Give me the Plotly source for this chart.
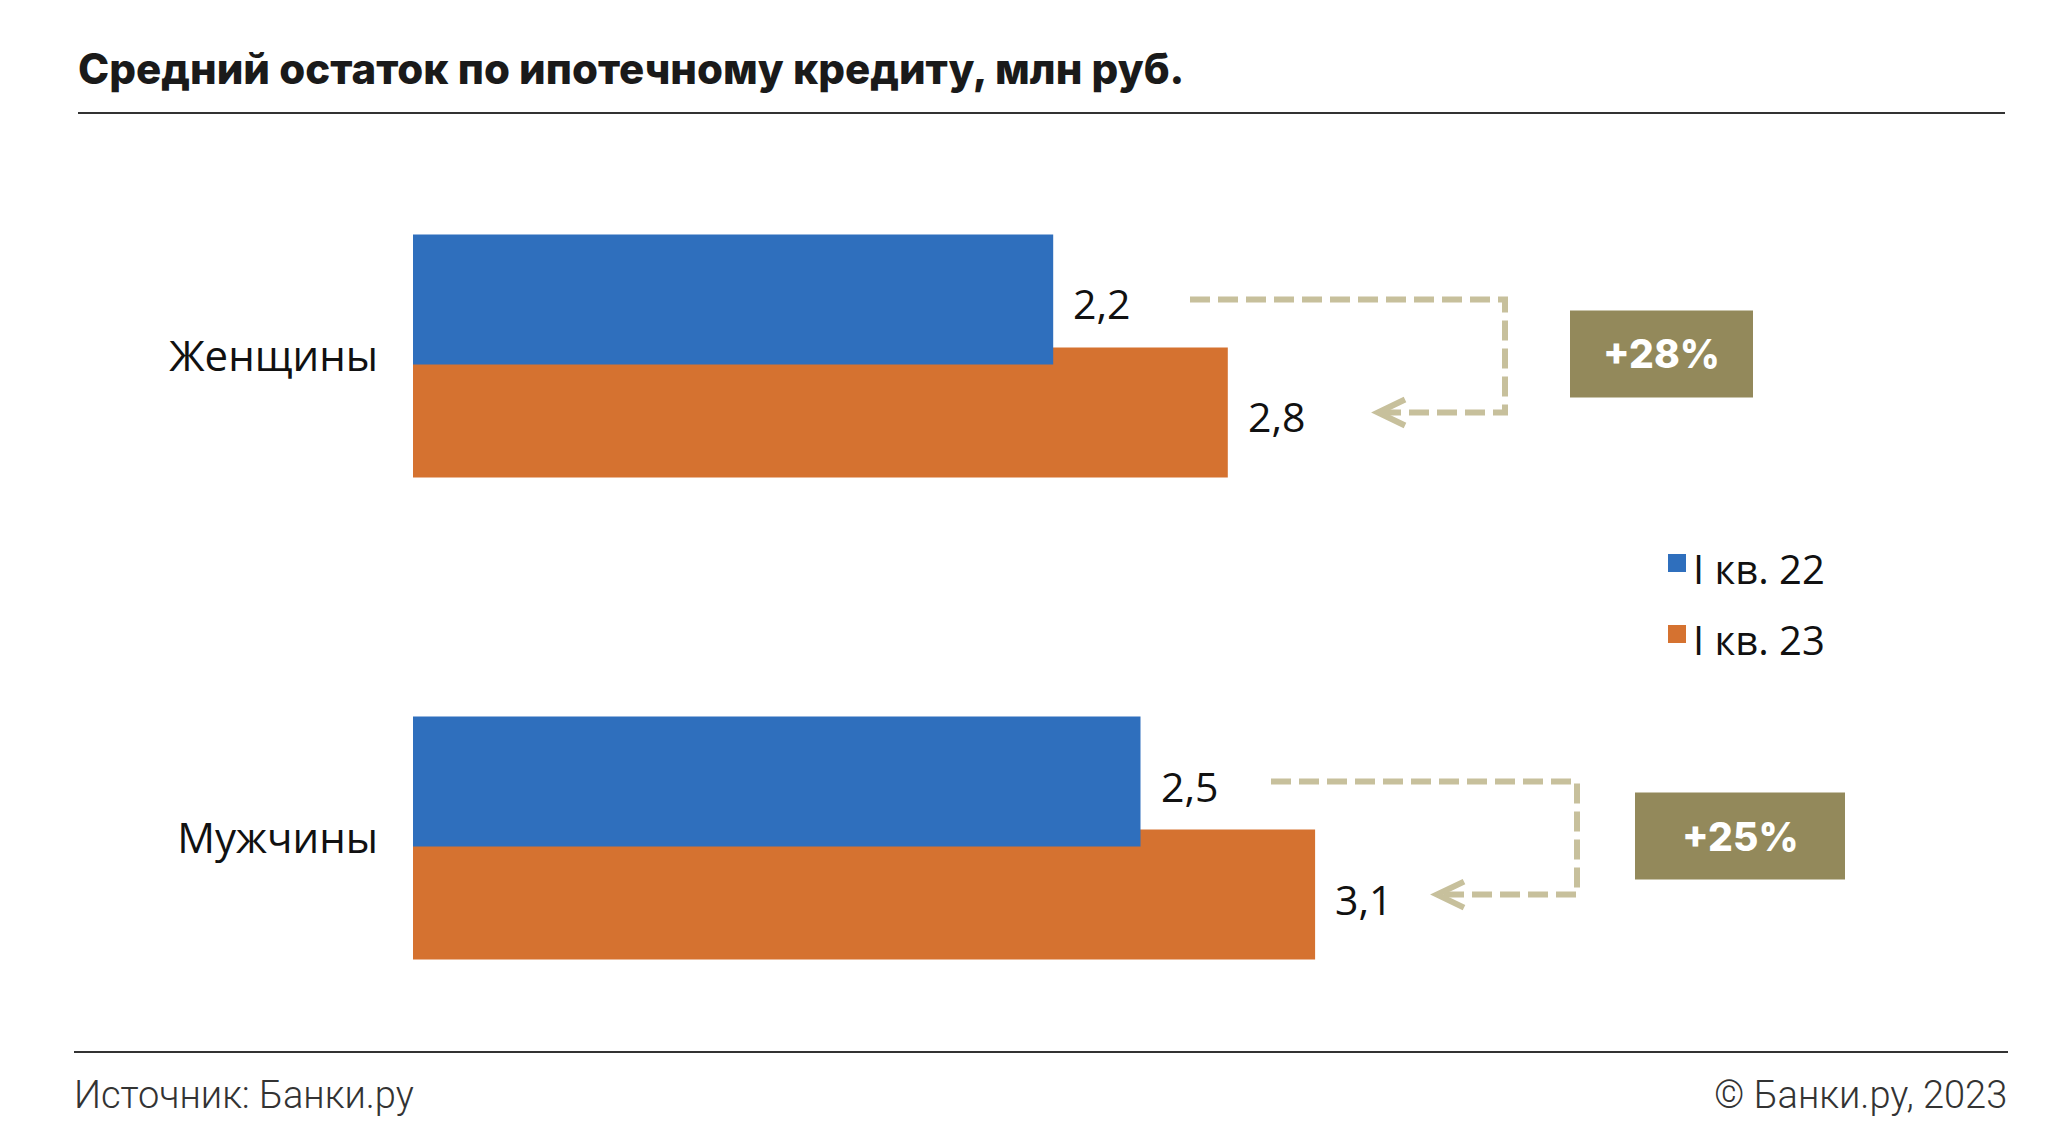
import plotly.graph_objects as go

# ---------------- data ----------------
categories = ["Женщины", "Мужчины"]
series_names = ["I кв. 22", "I кв. 23"]
q1_22 = [2.2, 2.5]
q1_23 = [2.8, 3.1]
growth_labels = ["+28%", "+25%"]

# ---------------- style ----------------
BLUE = "#2f6fbd"
ORANGE = "#d57230"
OLIVE = "#93895b"
DASHC = "#c7c09c"
TEXT = "#111111"
LABEL_FONT = "Open Sans, Liberation Sans, Arial"

W, H = 2050, 1140
L, R, T, B = 405, 50, 131, 93
PW, PH = W - L - R, H - T - B
XMAX = PW / 291.0
YR = 1.9  # y units shown
PX_PER_Y = PH / YR

BAR_W = 0.2697
OFF_BLUE = -0.252
OFF_ORANGE = -0.0176
C_BLUE = OFF_BLUE + BAR_W / 2
C_ORANGE = OFF_ORANGE + BAR_W / 2


def px_x(p):
    return (p - L) / PW


def px_y(p):
    return 1 - (p - T) / PH


def cat_px(i):
    return T + (i + 0.45) * PX_PER_Y


def fmt(v):
    return f"{v:.1f}".replace(".", ",")


fig = go.Figure()
fig.add_trace(go.Bar(y=categories, x=q1_23, orientation="h", name=series_names[1],
                     marker=dict(color=ORANGE, line=dict(width=0)),
                     width=BAR_W, offset=OFF_ORANGE, showlegend=False, hoverinfo="x+name"))
fig.add_trace(go.Bar(y=categories, x=q1_22, orientation="h", name=series_names[0],
                     marker=dict(color=BLUE, line=dict(width=0)),
                     width=BAR_W, offset=OFF_BLUE, showlegend=False, hoverinfo="x+name"))

shapes = []
annotations = []

# value labels
for i in range(len(categories)):
    for vals, c in ((q1_22, C_BLUE), (q1_23, C_ORANGE)):
        annotations.append(dict(x=vals[i], y=i + c, xref="x", yref="y", text=fmt(vals[i]),
                                showarrow=False, xanchor="left", yanchor="middle",
                                xshift=18, yshift=-4,
                                font=dict(family=LABEL_FONT, size=41, color=TEXT)))

# connectors and growth boxes (pixel positions of decorations)
connectors = [dict(start=1182, vert=1497, tip=1370), dict(start=1263, vert=1569, tip=1429)]
boxes = [dict(x0=1562, x1=1745), dict(x0=1627, x1=1837)]
BOX_H = 87
ah = 13 / PX_PER_Y
for i, cn in enumerate(connectors):
    yb = i + C_BLUE
    yo = i + C_ORANGE
    xs, xv, xt = px_x(cn["start"]), px_x(cn["vert"]), px_x(cn["tip"])
    shapes.append(dict(type="path", xref="paper", yref="y",
                       path=f"M {xs},{yb} L {xv},{yb} L {xv},{yo} L {px_x(cn['tip'] + 6)},{yo}",
                       line=dict(color=DASHC, width=6, dash="20px,8px")))
    shapes.append(dict(type="path", xref="paper", yref="y",
                       path=f"M {px_x(cn['tip'] + 27)},{yo - ah} L {xt},{yo} L {px_x(cn['tip'] + 27)},{yo + ah}",
                       line=dict(color=DASHC, width=6)))
    bx = boxes[i]
    cy = cat_px(i) - 2
    shapes.append(dict(type="rect", xref="paper", yref="paper",
                       x0=px_x(bx["x0"]), x1=px_x(bx["x1"]),
                       y0=px_y(cy + BOX_H / 2), y1=px_y(cy - BOX_H / 2),
                       fillcolor=OLIVE, line=dict(width=0)))
    annotations.append(dict(x=px_x((bx["x0"] + bx["x1"]) / 2), y=px_y(cy),
                            xref="paper", yref="paper", text=growth_labels[i], showarrow=False,
                            xanchor="center", yanchor="middle",
                            font=dict(family="Inter", size=39, color="white", weight=800)))

# legend (manual)
legend_rows = [(BLUE, 546), (ORANGE, 617)]
for (col, ytop), name in zip(legend_rows, series_names):
    shapes.append(dict(type="rect", xref="paper", yref="paper",
                       x0=px_x(1660), x1=px_x(1678), y0=px_y(ytop + 18), y1=px_y(ytop),
                       fillcolor=col, line=dict(width=0)))
    annotations.append(dict(x=px_x(1683), y=px_y(ytop + 14), xref="paper", yref="paper",
                            text=name, showarrow=False, xanchor="left", yanchor="middle",
                            font=dict(family=LABEL_FONT, size=40, color=TEXT)))

# title, rules, footer
annotations.append(dict(x=px_x(68), y=px_y(60), xref="paper", yref="paper",
                        text="Средний остаток по ипотечному кредиту, млн руб.", showarrow=False,
                        xanchor="left", yanchor="middle",
                        font=dict(family="Inter", size=42, color="#1a1a1a", weight=800)))
shapes.append(dict(type="line", xref="paper", yref="paper", x0=px_x(70), x1=px_x(1997),
                   y0=px_y(105), y1=px_y(105), line=dict(color="#333333", width=2)))
shapes.append(dict(type="line", xref="paper", yref="paper", x0=px_x(66), x1=px_x(2000),
                   y0=px_y(1044), y1=px_y(1044), line=dict(color="#333333", width=2)))
annotations.append(dict(x=px_x(64), y=px_y(1087), xref="paper", yref="paper",
                        text="Источник: Банки.ру", showarrow=False, xanchor="left", yanchor="middle",
                        font=dict(family="Roboto", size=38, color="#333333", weight=300)))
annotations.append(dict(x=px_x(2001), y=px_y(1087), xref="paper", yref="paper",
                        text="© Банки.ру, 2023", showarrow=False, xanchor="right", yanchor="middle",
                        font=dict(family="Roboto", size=38, color="#333333", weight=300)))

fig.update_layout(
    width=W, height=H,
    margin=dict(l=L, r=R, t=T, b=B, pad=0),
    paper_bgcolor="white", plot_bgcolor="white",
    barmode="overlay",
    showlegend=False,
    shapes=shapes,
    annotations=annotations,
    xaxis=dict(range=[0, XMAX], visible=False, fixedrange=True),
    yaxis=dict(type="category", range=[1.45, -0.45], showgrid=False, zeroline=False,
               showline=False, ticks="", ticklabelstandoff=34,
               tickfont=dict(family=LABEL_FONT, size=42, color=TEXT),
               fixedrange=True),
)

fig.write_html("out.html")
